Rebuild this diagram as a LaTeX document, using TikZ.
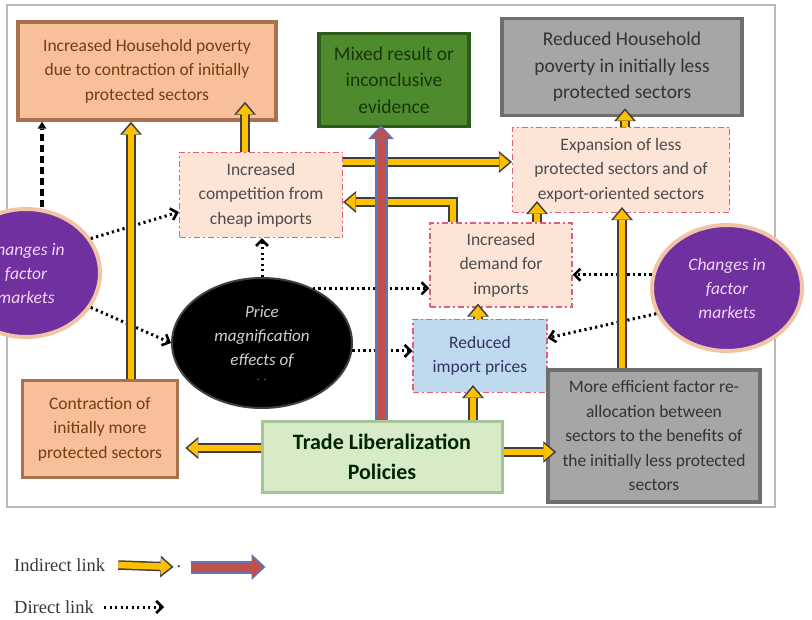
\documentclass[tikz,border=0pt]{standalone}
\usepackage{fontspec}
\setmainfont{Carlito}
\newfontfamily\legendfont{Liberation Serif}
\usepackage{tikz}
\usetikzlibrary{arrows.meta,positioning,calc,shapes.geometric}

\definecolor{orangefill}{HTML}{F8C09A}
\definecolor{orangeedge}{HTML}{A8714F}
\definecolor{orangetext}{HTML}{7A3A12}
\definecolor{greenfill}{HTML}{4E8B2E}
\definecolor{greenedge}{HTML}{2E5A1A}
\definecolor{greentext}{HTML}{173509}
\definecolor{grayfill}{HTML}{A6A6A6}
\definecolor{grayedge}{HTML}{6E6E6E}
\definecolor{pinkfill}{HTML}{FCE4D6}
\definecolor{pinkedge}{HTML}{E0607A}
\definecolor{bluefill}{HTML}{BFD9EE}
\definecolor{tradefill}{HTML}{D8EBC8}
\definecolor{tradeedge}{HTML}{A7C496}
\definecolor{purplefill}{HTML}{7030A0}
\definecolor{purpleglow}{HTML}{F2C4A6}
\definecolor{purpletext}{HTML}{F3D6F6}
\definecolor{yellowfill}{HTML}{FFC000}
\definecolor{arrowedge}{HTML}{3F3F3F}
\definecolor{redfill}{HTML}{C0504D}
\definecolor{rededge}{HTML}{5B78B5}

\tikzset{
  box/.style={rectangle, align=center, inner sep=2pt, font=\fontsize{17.5}{24.5}\selectfont},
  bigbox/.style={font=\fontsize{19.5}{26.5}\selectfont},
  orangebox/.style={box, fill=orangefill, draw=orangeedge, line width=3.5pt, text=orangetext},
  greenbox/.style={box, bigbox, fill=greenfill, draw=greenedge, line width=3.5pt, text=greentext},
  graybox/.style={box, fill=grayfill, draw=grayedge, line width=3.5pt, text=black!80},
  pinkbox/.style={box, fill=pinkfill, draw=pinkedge, line width=1.2pt,
    dash pattern=on 6pt off 3pt on 2pt off 3pt, text=black!70},
  bluebox/.style={pinkbox, fill=bluefill, text=black!70!blue!60!gray},
  tradebox/.style={box, fill=tradefill, draw=tradeedge, line width=3pt, text=black!85!green,
    font=\bfseries\fontsize{22}{30}\selectfont},
  blackoval/.style={ellipse, fill=black, draw=black!75, line width=2pt, inner sep=0pt,
    align=center, text=white!82!black, font=\itshape\fontsize{17}{24}\selectfont},
  purplecirc/.style={ellipse, fill=purplefill, draw=purpleglow, line width=4pt, inner sep=0pt,
    align=center, text=purpletext, font=\itshape\fontsize{17.5}{24}\selectfont},
  yarrow/.style={draw=yellowfill, line width=6.5pt, shorten >=2.5pt,
    -{Triangle[length=10pt, width=17pt, line width=0pt]},
    preaction={draw=arrowedge, line width=9.5pt, shorten >=0pt,
      -{Triangle[length=13pt, width=22pt, line width=0pt]}}},
  rarrow/.style={draw=redfill, line width=9pt, shorten >=2.5pt,
    -{Triangle[length=11pt, width=20pt, line width=0pt]},
    preaction={draw=rededge, line width=13pt, shorten >=0pt,
      -{Triangle[length=14pt, width=26pt, line width=0pt]}}},
  dotarrow/.style={draw=black, line width=3pt, dash pattern=on 2.2pt off 3.3pt,
    -{Straight Barb[length=6pt, width=12pt, line width=2.6pt]}},
  dasharrow/.style={draw=black, line width=3.6pt, dash pattern=on 7pt off 4pt,
    -{Triangle[length=7pt, width=9pt, line width=0pt]}},
  legendtext/.style={font=\legendfont\fontsize{18.5}{20}\selectfont, text=black!78, inner sep=0pt},
}

\begin{document}
\begin{tikzpicture}[x=1pt, y=-1pt]
    \useasboundingbox (0,0) rectangle (812,620);
    \clip (0,0) rectangle (812,620);

    % Frame
    \draw[gray!55, line width=1.5pt] (7,5) rectangle (775,507);

    % Outcome boxes
    \node[orangebox, minimum width=258pt, minimum height=98pt] (hhpoor) at (147,71)
        {Increased Household poverty\\due to contraction of initially\\protected sectors};
    \node[greenbox, minimum width=150pt, minimum height=93pt] (mixed) at (394,80)
        {Mixed result or\\inconclusive\\evidence};
    \node[graybox, bigbox, minimum width=240pt, minimum height=97pt] (reduced) at (622,67)
        {Reduced Household\\poverty in initially less\\protected sectors};

    % Channels
    \node[pinkbox, minimum width=163pt, minimum height=85pt] (comp) at (261,195)
        {Increased\\competition from\\cheap imports};
    \node[pinkbox, minimum width=217pt, minimum height=85pt] (expand) at (621,170)
        {Expansion of less\\protected sectors and of\\export-oriented sectors};
    \node[pinkbox, minimum width=142pt, minimum height=84pt] (demand) at (501,265)
        {Increased\\demand for\\imports};
    \node[bluebox, minimum width=134pt, minimum height=73pt] (price) at (480,356)
        {Reduced\\import prices};
    \node[blackoval, minimum width=180pt, minimum height=130pt] (magnif) at (262,343)
        {Price\\magnification\\effects of\\[-9pt]{\fontsize{9}{9}\selectfont .\enspace.}};
    \node[purplecirc, minimum width=148pt, minimum height=128pt] (lcirc) at (26,273)
        {Changes in\\factor\\markets};
    \node[purplecirc, minimum width=150pt, minimum height=126pt] (rcirc) at (727,288)
        {Changes in\\factor\\markets};

    % Bottom row
    \node[orangebox, minimum width=155pt, minimum height=97pt] (contract) at (100,429)
        {Contraction of\\initially more\\protected sectors};
    \node[tradebox, minimum width=240pt, minimum height=71pt] (trade) at (382,457)
        {Trade Liberalization\\Policies};
    \node[graybox, minimum width=212pt, minimum height=132pt] (effic) at (654,436)
        {More efficient factor re-\\allocation between\\sectors to the benefits of\\the initially less protected\\sectors};

    % Direct links
    \draw[dasharrow] ([xshift=16pt]lcirc.north) -- ([xshift=16pt]lcirc.north |- hhpoor.south);
    \draw[dotarrow] (lcirc.28) -- ([yshift=-17pt]comp.west);
    \draw[dotarrow] (lcirc.-28) -- (magnif.west);
    \draw[dotarrow] (magnif.north) -- (magnif.north |- comp.south);
    \draw[dotarrow] (magnif.47) -- (magnif.47 -| demand.west);
    \draw[dotarrow] (magnif.-5) -- (magnif.-5 -| price.west);
    \draw[dotarrow] (rcirc.170) -- (rcirc.170 -| demand.east);
    \draw[dotarrow] (rcirc.200) -- ([yshift=18pt]price.east);

    % Indirect links
    \draw[yarrow] ([xshift=31pt]contract.north) -- ([xshift=31pt]contract.north |- hhpoor.south);
    \draw[yarrow] ([xshift=-16pt]comp.north) -- ([xshift=-16pt,yshift=20pt]comp.north |- hhpoor.south);
    \draw[yarrow] ([yshift=33pt]comp.east) -- ([yshift=33pt]comp.east -| expand.west);
    \draw[yarrow] ([xshift=-48pt]demand.north) |- ([yshift=-7pt]comp.east);
    \draw[yarrow] ([xshift=36pt]demand.north) -- ([xshift=36pt,yshift=12pt]demand.north |- expand.south);
    \draw[yarrow] ([xshift=-32pt]effic.north) -- ([xshift=-32pt,yshift=6pt]effic.north |- expand.south);
    \draw[yarrow] ([xshift=4pt]expand.north) -- ([xshift=4pt,yshift=9pt]expand.north |- reduced.south);
    \draw[yarrow] ([xshift=-2pt]price.north) -- ([xshift=-2pt,yshift=4pt]price.north |- demand.south);
    \draw[yarrow] ([xshift=91pt]trade.north) -- ([xshift=91pt,yshift=8pt]trade.north |- price.south);
    \draw[yarrow] ([yshift=9pt]trade.west) -- ([yshift=9pt,xshift=6pt]trade.west -| contract.east);
    \draw[yarrow] ([yshift=5pt]trade.east) -- ([yshift=5pt,xshift=10pt]trade.east -| effic.west);
    \draw[rarrow] ([xshift=-1pt]trade.north) -- ([xshift=-1pt,yshift=3pt]trade.north |- mixed.south);

    % Legend
    \node[legendtext, anchor=west] (lind) at (14,565) {Indirect link};
    \node[legendtext] (lstop) at (179,567) {.};
    \node[legendtext, anchor=west] (ldir) at (14,607) {Direct link};
    \draw[yarrow] ([xshift=13pt]lind.east) -- ([xshift=-3pt]lstop.west);
    \draw[rarrow] ([xshift=9pt]lstop.east) -- ++(75,0);
    \draw[dotarrow] ([xshift=10pt]ldir.east) -- ++(60,0);
\end{tikzpicture}
\end{document}
